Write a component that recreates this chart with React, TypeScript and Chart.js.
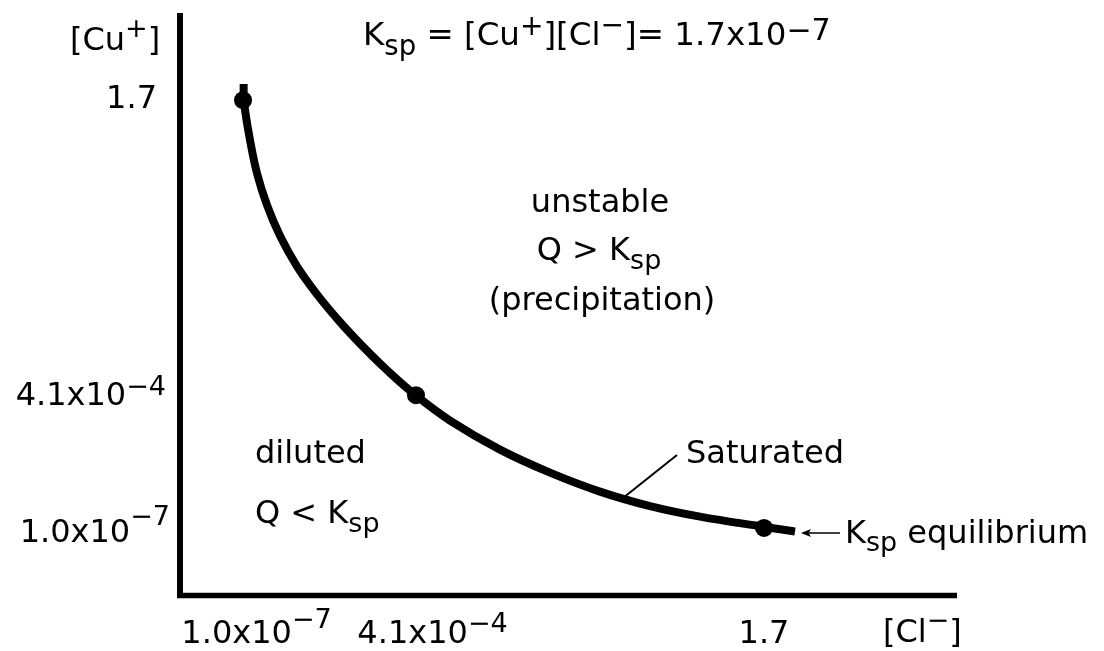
import React, { useEffect, useRef } from "react";
import { Chart, registerables } from "chart.js";

Chart.register(...registerables);

// ---- data (diagram units: 0..100 on each axis) ----
const curveX = [8.19, 8.24, 9.01, 9.91, 11.2, 12.87, 15.06, 17.63, 20.59, 23.55, 26.64, 30.24, 34.75, 41.18, 47.62, 54.05, 60.49, 66.92, 75.29, 79.15];
const curveY = [87.97, 84.88, 78.35, 72.65, 67.15, 61.89, 56.63, 51.82, 47.08, 42.85, 38.81, 34.59, 30.14, 25.15, 21.2, 17.94, 15.45, 13.64, 11.86, 11.08];
const pointX = [8.11, 30.37, 75.16];
const pointY = [85.2, 34.5, 11.7];

const xTickValues = [9.85, 32.5, 75.16];
const xTickMantissas = ["1.0x10", "4.1x10", "1.7"];
const xTickExponents = ["−7", "−4", ""];
const yTickValues = [85.7, 34.7, 11.2];
const yTickMantissas = ["1.7", "4.1x10", "1.0x10"];
const yTickExponents = ["", "−4", "−7"];

const xAxisTitle = ["[Cl", "−", "]"];
const yAxisTitle = ["[Cu", "+", "]"];

// ---- styles ----
const FONT = '"DejaVu Sans", Verdana, sans-serif';
const BASE = 32;
const SMALL = 27;
const xTickRaise = [15, 11, 0];
const yTickRaise = [0, 10, 17];
const yTickRight = [157, 166, 170];

type Seg = [string, "n" | "u" | "d", number?, number?];

function segSize(s: Seg, base: number) {
  return s[1] === "n" ? base : s[3] ?? SMALL;
}

function segWidth(ctx: CanvasRenderingContext2D, s: Seg, base: number) {
  ctx.font = `${segSize(s, base)}px ${FONT}`;
  return ctx.measureText(s[0]).width;
}

function drawRich(
  ctx: CanvasRenderingContext2D,
  segs: Seg[],
  x: number,
  y: number,
  align: "left" | "center" | "right",
  base: number = BASE
) {
  const total = segs.reduce((a, s) => a + segWidth(ctx, s, base), 0);
  let cx = align === "left" ? x : align === "center" ? x - total / 2 : x - total;
  ctx.textAlign = "left";
  ctx.textBaseline = "alphabetic";
  ctx.fillStyle = "#000";
  for (const s of segs) {
    const w = segWidth(ctx, s, base);
    ctx.font = `${segSize(s, base)}px ${FONT}`;
    let dy = 0;
    if (s[1] === "u") dy = -(s[2] ?? 11);
    if (s[1] === "d") dy = s[2] ?? 9;
    ctx.fillText(s[0], cx, y + dy);
    cx += w;
  }
}

const diagramPlugin = {
  id: "diagram",
  beforeDatasetsDraw(chart: any) {
    const ctx: CanvasRenderingContext2D = chart.ctx;
    const xs = chart.scales.x;
    const ys = chart.scales.y;
    const x0 = xs.getPixelForValue(0);
    const x1 = xs.getPixelForValue(100);
    const y0 = ys.getPixelForValue(0);
    const y1 = ys.getPixelForValue(100);
    ctx.save();
    ctx.strokeStyle = "#000";
    ctx.lineCap = "butt";
    ctx.lineWidth = 6;
    ctx.beginPath();
    ctx.moveTo(x0, y1 - 1);
    ctx.lineTo(x0, y0 + 2);
    ctx.stroke();
    ctx.lineWidth = 5.5;
    ctx.beginPath();
    ctx.moveTo(x0 - 3, y0 - 0.5);
    ctx.lineTo(x1, y0 - 0.5);
    ctx.stroke();
    ctx.restore();
  },
  afterDraw(chart: any) {
    const ctx: CanvasRenderingContext2D = chart.ctx;
    const xs = chart.scales.x;
    const ys = chart.scales.y;
    ctx.save();
    // x tick labels
    xTickValues.forEach((v, i) => {
      const px = xs.getPixelForValue(v);
      const segs: Seg[] = [[xTickMantissas[i], "n"]];
      if (xTickExponents[i]) segs.push([xTickExponents[i], "u", xTickRaise[i]]);
      drawRich(ctx, segs, px, 643, "center");
    });
    // y tick labels
    yTickValues.forEach((v, i) => {
      const py = ys.getPixelForValue(v);
      const segs: Seg[] = [[yTickMantissas[i], "n"]];
      if (yTickExponents[i]) segs.push([yTickExponents[i], "u", yTickRaise[i]]);
      drawRich(ctx, segs, yTickRight[i], py + 11, "right");
    });
    // axis titles
    drawRich(ctx, [[yAxisTitle[0], "n"], [yAxisTitle[1], "u", 13], [yAxisTitle[2], "n"]], 70, 50, "left");
    drawRich(ctx, [[xAxisTitle[0], "n"], [xAxisTitle[1], "u", 13], [xAxisTitle[2], "n"]], 883, 642, "left");
    // equation
    drawRich(
      ctx,
      [
        ["K", "n"],
        ["sp", "d", 10, 27.5],
        [" = [Cu", "n"],
        ["+", "u", 10, 28],
        ["][Cl", "n"],
        ["−", "u", 11, 28],
        ["]= 1.7x10", "n"],
        ["−7", "u", 5, 30],
      ],
      363,
      45,
      "left",
      32.5
    );
    // region labels
    drawRich(ctx, [["unstable", "n"]], 600, 212, "center");
    drawRich(ctx, [["Q > K", "n"], ["sp", "d", 9]], 599, 260, "center");
    drawRich(ctx, [["(precipitation)", "n"]], 602, 310, "center");
    drawRich(ctx, [["diluted", "n"]], 255, 463, "left");
    drawRich(ctx, [["Q < K", "n"], ["sp", "d", 9]], 255, 523, "left");
    drawRich(ctx, [["Saturated", "n"]], 686, 463, "left");
    drawRich(ctx, [["K", "n"], ["sp", "d", 8], [" equilibrium", "n"]], 845, 543, "left");
    // leader line for Saturated
    ctx.strokeStyle = "#000";
    ctx.lineWidth = 2;
    ctx.beginPath();
    ctx.moveTo(623, 498);
    ctx.lineTo(677, 455);
    ctx.stroke();
    // arrow to equilibrium point
    ctx.lineWidth = 1.5;
    ctx.beginPath();
    ctx.moveTo(840, 533);
    ctx.lineTo(806, 533);
    ctx.stroke();
    ctx.fillStyle = "#000";
    ctx.beginPath();
    ctx.moveTo(801, 533);
    ctx.lineTo(811, 529);
    ctx.lineTo(808.5, 533);
    ctx.lineTo(811, 537);
    ctx.closePath();
    ctx.fill();
    ctx.restore();
  },
};

export default function App() {
  const ref = useRef<HTMLCanvasElement | null>(null);
  useEffect(() => {
    if (!ref.current) return;
    const chart = new Chart(ref.current, {
      type: "line",
      data: {
        datasets: [
          {
            label: "curve",
            data: curveX.map((x, i) => ({ x, y: curveY[i] })),
            borderColor: "#000",
            borderWidth: 8,
            pointRadius: 0,
            tension: 0.4,
            fill: false,
            clip: false,
          } as any,
          {
            label: "points",
            data: pointX.map((x, i) => ({ x, y: pointY[i] })),
            showLine: false,
            pointRadius: 9,
            pointBackgroundColor: "#000",
            pointBorderColor: "#000",
            pointBorderWidth: 0,
            clip: false,
          } as any,
        ],
      },
      options: {
        animation: false,
        responsive: false,
        devicePixelRatio: 1,
        layout: { padding: { left: 180, right: 147, top: 14, bottom: 55 } },
        plugins: { legend: { display: false }, tooltip: { enabled: false }, title: { display: false } },
        events: [],
        scales: {
          x: { type: "linear", min: 0, max: 100, display: false },
          y: { type: "linear", min: 0, max: 100, display: false },
        },
      },
      plugins: [diagramPlugin],
    });
    return () => chart.destroy();
  }, []);
  return (
    <div style={{ position: "absolute", left: 0, top: 0, width: 1104, height: 651, background: "#fff" }}>
      <canvas ref={ref} width={1104} height={651} style={{ display: "block" }} />
    </div>
  );
}
